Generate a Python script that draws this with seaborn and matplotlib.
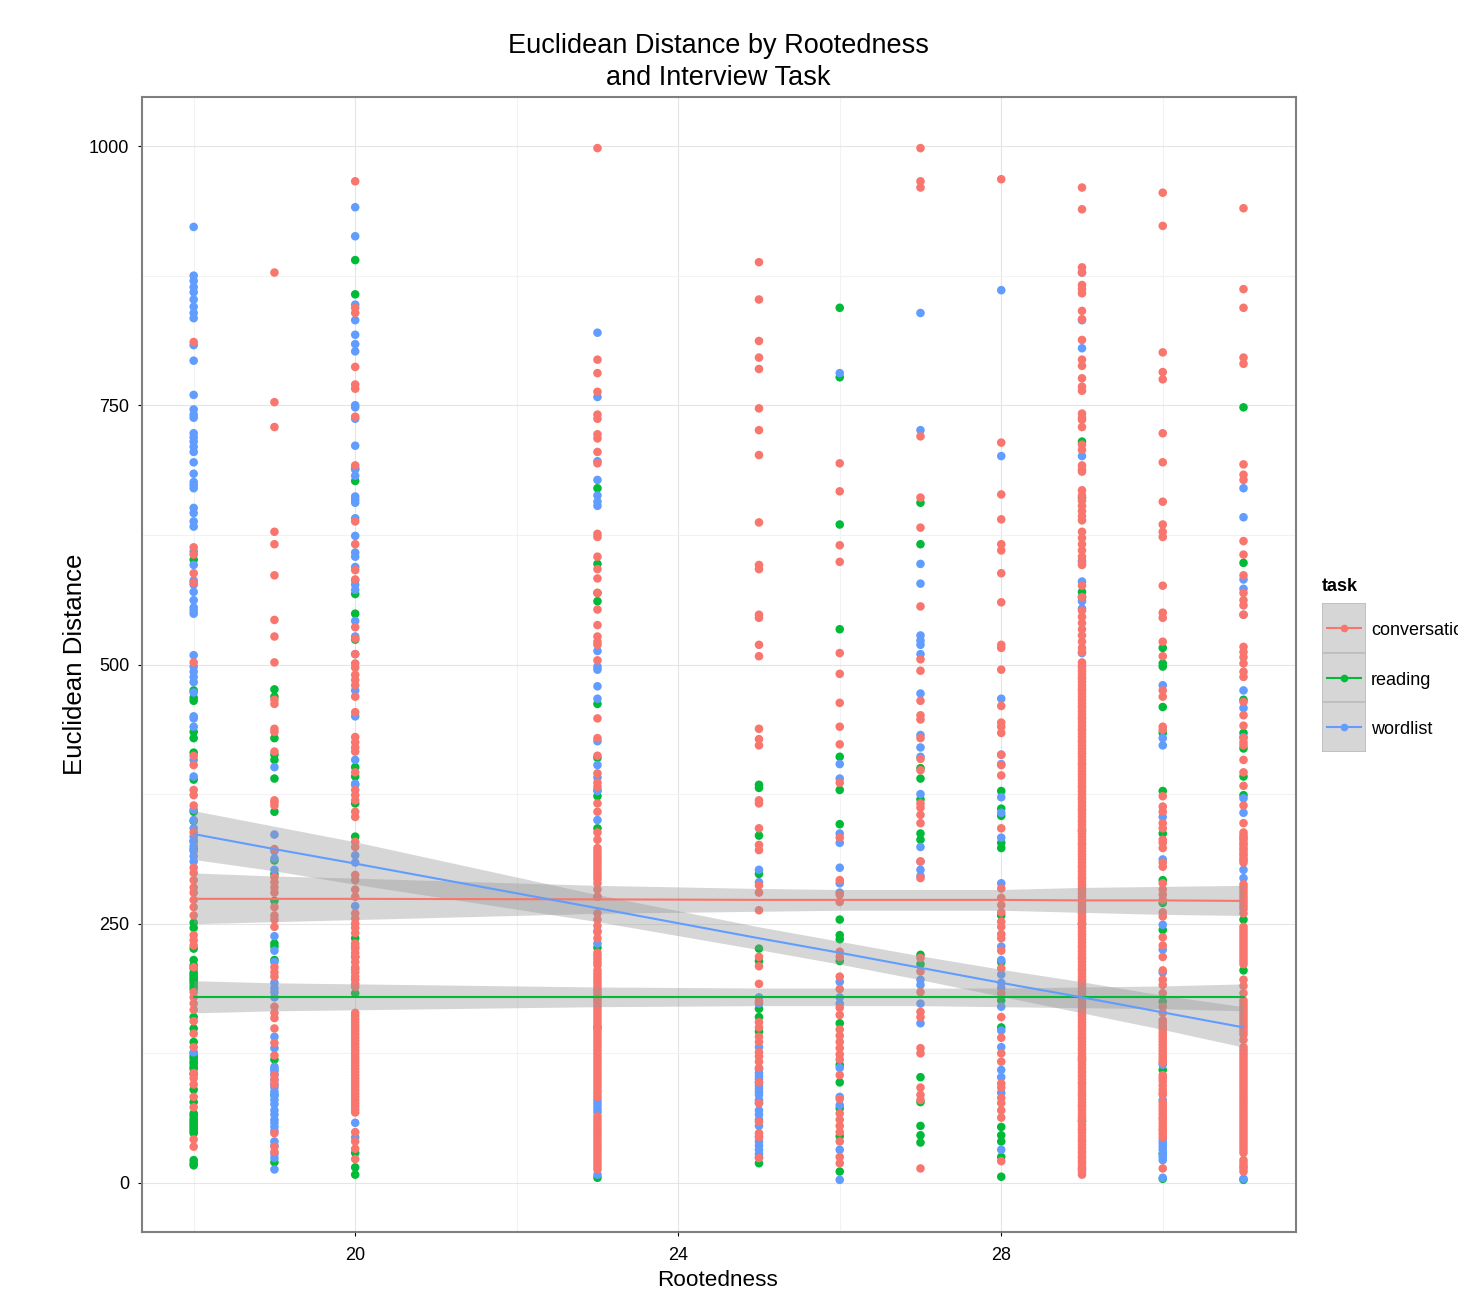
import pandas as pd
import matplotlib
matplotlib.use('Agg')
import matplotlib.pyplot as plt
import seaborn as sns

# valores, una lista por columna de rootedness y tarea
conv_18 = [811, 613, 606, 588, 579, 502, 412, 403, 379, 374, 364, 338, 304, 299, 292, 285, 280, 273, 266, 258,
           239, 234, 229, 208, 184, 179, 173, 167, 156, 144, 131, 106, 101, 95, 83, 73, 42, 35]
read_18 = [601, 475, 468, 465, 435, 429, 415, 389, 358, 349, 330, 322, 251, 246, 226, 215, 210, 207, 203, 201, 199,
           197, 195, 193, 190, 187, 160, 149, 136, 125, 122, 120, 117, 115, 112, 110, 105, 90, 78, 67, 65, 62, 60,
           58, 56, 54, 52, 50, 48, 22, 19, 17]
word_18 = [922, 875, 870, 864, 859, 852, 845, 839, 834, 808, 793, 760, 746, 741, 738, 723, 719, 715, 710, 705, 695,
           684, 676, 673, 670, 651, 646, 638, 633, 609, 596, 581, 577, 570, 562, 555, 552, 549, 509, 498, 493, 488,
           483, 473, 450, 448, 440, 408, 392, 360, 350, 342, 334, 329, 325, 320, 315, 310, 126]

conv_19 = [878, 753, 729, 628, 616, 586, 543, 527, 502, 466, 462, 438, 435, 416, 369, 367, 364, 322, 295, 290, 285,
           280, 266, 258, 254, 247, 208, 203, 199, 170, 164, 159, 149, 135, 123, 104, 99, 95, 48, 35, 30]
read_19 = [476, 469, 429, 413, 408, 390, 358, 311, 298, 272, 231, 228, 215, 119, 85, 20]
word_19 = [401, 336, 320, 313, 302, 238, 224, 213, 193, 188, 184, 179, 141, 130, 112, 110, 108, 105, 100, 95, 92,
           88, 84, 80, 76, 70, 66, 61, 58, 54, 50, 40, 36, 28, 24, 13]

conv_20 = [966, 844, 839, 787, 770, 766, 739, 692, 638, 616, 591, 582, 536, 525, 510, 501, 497, 490, 485, 480, 469,
           454, 430, 425, 420, 416, 396, 379, 374, 369, 358, 353, 329, 324, 297, 292, 283, 276, 260, 255, 250, 246,
           241, 231, 228, 226, 222, 218, 213, 208, 206, 203, 199, 196, 192, 189, 164, 161, 158, 155, 152, 149, 146,
           143, 140, 137, 134, 131, 128, 125, 122, 119, 116, 113, 110, 107, 104, 101, 98, 95, 92, 89, 86, 83, 80,
           77, 74, 71, 68, 49, 40, 33, 23]
read_20 = [890, 857, 677, 568, 549, 524, 401, 392, 366, 334, 236, 218, 183, 29, 15, 8]
word_20 = [941, 913, 847, 832, 818, 809, 802, 750, 748, 737, 711, 689, 688, 682, 662, 659, 656, 641, 624, 608, 604,
           594, 581, 577, 572, 542, 527, 510, 475, 450, 408, 384, 385, 316, 309, 267, 58, 44]

conv_23 = [998, 794, 781, 763, 741, 737, 722, 718, 705, 694, 626, 623, 604, 592, 583, 569, 553, 538, 527, 522, 519,
           504, 448, 429, 412, 395, 386, 382, 366, 358, 338, 331, 323, 320, 317, 314, 311, 308, 305, 302, 299, 296,
           293, 289, 283, 276, 260, 254, 248, 242, 236, 222, 219, 216, 213, 210, 205, 202, 199, 196, 193, 190, 187,
           184, 181, 178, 176, 173, 170, 167, 164, 161, 158, 155, 152, 149, 146, 143, 140, 137, 134, 131, 128, 125,
           122, 119, 116, 113, 110, 107, 104, 101, 98, 95, 92, 89, 86, 83, 64, 61, 58, 55, 52, 49, 46, 43, 40, 37,
           34, 31, 28, 25, 22, 19, 16, 13]
read_23 = [670, 597, 569, 561, 462, 410, 373, 342, 227, 150, 5]
word_23 = [820, 758, 696, 678, 663, 657, 653, 513, 498, 495, 479, 467, 426, 403, 391, 378, 379, 350, 276, 243, 231,
           80, 77, 74, 71, 68, 8]

conv_25 = [888, 852, 812, 796, 785, 747, 726, 702, 637, 596, 592, 548, 545, 519, 508, 438, 428, 422, 369, 366, 342,
           326, 321, 287, 280, 263, 218, 209, 192, 175, 155, 150, 141, 136, 126, 122, 117, 111, 97, 77, 59, 48, 44, 24]
read_25 = [384, 381, 335, 298, 226, 214, 168, 160, 146, 19]
word_25 = [302, 290, 179, 173, 131, 110, 106, 103, 100, 97, 94, 91, 88, 85, 80, 77, 70, 66, 61, 55, 45, 40, 36, 32,
           28, 25]

conv_26 = [694, 667, 615, 599, 511, 491, 463, 440, 423, 386, 333, 292, 278, 271, 223, 218, 199, 187, 169, 162, 148,
           142, 136, 130, 124, 119, 104, 81, 67, 61, 55, 49, 40, 25, 19]
read_26 = [844, 777, 635, 534, 411, 379, 346, 254, 239, 235, 214, 154, 114, 97, 72, 45, 11]
word_26 = [781, 404, 390, 337, 328, 304, 289, 280, 194, 179, 173, 111, 83, 75, 32, 3]

conv_27 = [998, 966, 960, 720, 661, 632, 556, 505, 494, 465, 451, 447, 429, 409, 398, 366, 362, 355, 347, 310, 294,
           217, 204, 184, 165, 160, 130, 125, 92, 85, 80, 14]
read_27 = [656, 616, 400, 390, 370, 337, 331, 220, 211, 102, 78, 55, 46, 39]
word_27 = [839, 726, 597, 578, 528, 523, 519, 510, 472, 432, 420, 411, 375, 324, 310, 302, 296, 196, 191, 173, 154]

conv_28 = [968, 714, 664, 640, 616, 610, 588, 560, 519, 516, 495, 460, 444, 440, 434, 413, 403, 393, 342, 284, 275,
           268, 261, 252, 247, 240, 236, 224, 207, 183, 160, 140, 125, 117, 96, 92, 82, 77, 70, 63, 21]
read_28 = [378, 361, 354, 328, 323, 258, 213, 176, 150, 54, 46, 40, 25, 6]
word_28 = [861, 701, 467, 413, 404, 372, 357, 333, 289, 228, 215, 201, 193, 188, 170, 147, 131, 109, 102, 87, 32]

conv_29 = [960, 939, 883, 878, 866, 862, 858, 841, 833, 813, 794, 788, 776, 768, 764, 742, 738, 736, 729, 712, 707,
           692, 688, 686, 668, 663, 658, 653, 648, 643, 639, 628, 622, 616, 610, 604, 598, 596, 576, 565, 552, 546,
           540, 534, 528, 522, 516, 512, 502, 499, 497, 494, 491, 488, 486, 483, 480, 477, 475, 472, 469, 466, 463,
           460, 458, 455, 452, 449, 447, 444, 441, 438, 436, 433, 430, 427, 425, 422, 419, 416, 414, 411, 408, 405,
           403, 400, 397, 394, 392, 389, 386, 383, 381, 378, 375, 372, 370, 367, 364, 361, 359, 356, 353, 350, 348,
           345, 342, 339, 337, 334, 331, 328, 326, 323, 320, 317, 315, 312, 309, 306, 304, 301, 298, 295, 293, 290,
           287, 284, 282, 279, 276, 273, 271, 268, 265, 262, 260, 257, 254, 251, 249, 246, 243, 240, 238, 235, 232,
           229, 227, 224, 221, 218, 216, 213, 210, 207, 205, 202, 199, 196, 194, 191, 188, 185, 183, 180, 177, 174,
           172, 169, 166, 163, 161, 158, 155, 152, 150, 147, 144, 141, 139, 136, 133, 130, 128, 125, 122, 119, 117,
           114, 111, 108, 106, 103, 100, 97, 95, 92, 89, 86, 84, 81, 78, 75, 73, 70, 67, 64, 62, 59, 56, 53, 51, 48,
           45, 42, 40, 37, 34, 31, 29, 26, 24, 21, 19, 16, 13, 11, 8]
read_29 = [715, 661, 570, 565, 340, 250, 180, 120, 60]
word_29 = [878, 832, 805, 701, 600, 580, 561, 554, 511, 14]

conv_30 = [955, 923, 801, 782, 775, 723, 695, 657, 635, 628, 623, 576, 550, 545, 522, 508, 475, 469, 440, 437, 373,
           363, 358, 347, 342, 331, 328, 323, 309, 305, 289, 283, 278, 273, 261, 257, 237, 229, 218, 205, 196, 191,
           183, 170, 164, 157, 154, 151, 148, 145, 142, 139, 136, 133, 130, 127, 124, 121, 118, 116, 104, 101, 98,
           94, 90, 87, 85, 78, 75, 72, 69, 66, 63, 61, 58, 55, 52, 50, 47, 44, 14]
read_30 = [516, 501, 498, 459, 434, 378, 337, 292, 270, 244, 175, 109, 28, 4]
word_30 = [480, 429, 422, 353, 312, 249, 225, 203, 114, 80, 41, 38, 35, 32, 28, 25, 22, 5]

conv_31 = [940, 862, 844, 796, 790, 693, 683, 678, 619, 606, 586, 569, 562, 557, 548, 517, 512, 507, 501, 493, 488,
           464, 451, 441, 429, 425, 422, 408, 396, 383, 364, 347, 338, 335, 333, 331, 328, 326, 323, 321, 318, 316,
           313, 311, 309, 288, 285, 282, 279, 276, 273, 270, 267, 264, 260, 247, 244, 241, 238, 235, 232, 229, 226,
           223, 220, 217, 214, 211, 196, 190, 183, 176, 173, 170, 167, 164, 161, 158, 155, 152, 149, 146, 143, 138,
           131, 125, 122, 119, 116, 113, 110, 107, 104, 101, 98, 95, 92, 89, 86, 83, 80, 77, 74, 71, 68, 65, 62, 59,
           56, 53, 50, 47, 44, 41, 38, 35, 32, 29, 22, 19, 16, 14, 11]
read_31 = [748, 598, 466, 434, 419, 392, 374, 254, 205, 3]
word_31 = [670, 642, 582, 573, 548, 475, 458, 430, 371, 357, 302, 294, 128, 4]

rootedness = [18, 19, 20, 23, 25, 26, 27, 28, 29, 30, 31]

# ajustes lineales y bandas de confianza
conv_fit = [274, 274, 274, 273.5, 273, 273, 273, 273, 272.5, 272.5, 272]
conv_hi = [299, 296, 294, 287, 284, 283, 283, 283, 285, 286, 287]
conv_lo = [250, 252, 254, 260, 262, 263, 263, 263, 261, 259, 258]
read_fit = [179, 179, 179, 179, 179, 179, 179, 179, 179, 179, 179]
read_hi = [195, 193, 192, 189, 188, 188, 188, 188, 189, 190, 192]
read_lo = [164, 166, 167, 170, 171, 171, 171, 170, 169, 168, 166]
word_fit = [336.5, 322, 308, 265, 236, 222, 207.5, 193, 179, 164.5, 150]
word_hi = [359, 344, 329, 278, 247, 233, 219, 206, 194, 181, 170]
word_lo = [312, 301, 288, 252, 225, 211, 196, 180, 164, 148, 131]

colores = {'conversation': '#F8766D', 'reading': '#00BA38', 'wordlist': '#619CFF'}

por_tarea = {
    'reading': [read_18, read_19, read_20, read_23, read_25, read_26, read_27, read_28, read_29, read_30, read_31],
    'wordlist': [word_18, word_19, word_20, word_23, word_25, word_26, word_27, word_28, word_29, word_30, word_31],
    'conversation': [conv_18, conv_19, conv_20, conv_23, conv_25, conv_26, conv_27, conv_28, conv_29, conv_30, conv_31],
}

# tabla larga, el orden de las filas decide que punto queda encima
filas = []
for tarea, columnas in por_tarea.items():
    for x, valores in zip(rootedness, columnas):
        for v in valores:
            filas.append({'Rootedness': x, 'Euclidean Distance': v, 'task': tarea})
df = pd.DataFrame(filas)

ajustes = pd.concat([
    pd.DataFrame({'Rootedness': rootedness, 'fit': conv_fit, 'task': 'conversation'}),
    pd.DataFrame({'Rootedness': rootedness, 'fit': read_fit, 'task': 'reading'}),
    pd.DataFrame({'Rootedness': rootedness, 'fit': word_fit, 'task': 'wordlist'}),
])

sns.set_theme(style='white')
plt.rcParams['font.family'] = ['Liberation Sans']

W, H = 1458, 1303
fig = plt.figure(figsize=(W / 100, H / 100), dpi=100)
ax = fig.add_axes([142 / W, 1 - 1232 / H, (1296 - 142) / W, (1232 - 97) / H])

sns.scatterplot(data=df, x='Rootedness', y='Euclidean Distance', hue='task', palette=colores,
                s=38, linewidth=0, legend=False, ax=ax, zorder=3)

for lo, hi in [(conv_lo, conv_hi), (read_lo, read_hi), (word_lo, word_hi)]:
    ax.fill_between(rootedness, lo, hi, color='#999999', alpha=0.4, linewidth=0, zorder=4)

sns.lineplot(data=ajustes, x='Rootedness', y='fit', hue='task', palette=colores, linewidth=1.5,
             estimator=None, legend=False, ax=ax, zorder=5)

ax.set_xlim(17.36, 31.65)
ax.set_ylim(-47.3, 1047.3)
ax.set_xticks([20, 24, 28])
ax.set_xticks([18, 22, 26, 30], minor=True)
ax.set_yticks([0, 250, 500, 750, 1000])
ax.set_yticks([125, 375, 625, 875], minor=True)
ax.grid(which='major', color='#E5E5E5', linewidth=0.8, zorder=0)
ax.grid(which='minor', color='#F2F2F2', linewidth=0.8, zorder=0)
ax.set_axisbelow(True)
ax.tick_params(which='major', length=3, width=0.8, color='black', labelsize=13, labelcolor='black', bottom=True, left=True)
ax.tick_params(axis='y', pad=6)
ax.tick_params(axis='x', pad=8)
ax.tick_params(which='minor', length=0)
for s in ax.spines.values():
    s.set_color('#7F7F7F')
    s.set_linewidth(1.5)

ax.set_xlabel('')
ax.set_ylabel('')
fig.text(718 / W, 1 - 1281 / H, 'Rootedness', ha='center', va='center', fontsize=16.2, color='black')
fig.text(75 / W, 1 - 664 / H, 'Euclidean Distance', ha='center', va='center', rotation=90, fontsize=18.6, color='black')
fig.text(718 / W, 1 - 62 / H, 'Euclidean Distance by Rootedness\nand Interview Task', ha='center', va='center',
         fontsize=19.5, color='black', linespacing=1.32)

# leyenda a mano, el texto se corta en el borde igual que en el original
lax = fig.add_axes([1322 / W, 1 - 752 / H, 44 / W, 149 / H])
lax.set_xlim(0, 1)
lax.set_ylim(3, 0)
lax.axis('off')
for i, tarea in enumerate(colores):
    lax.axhspan(i, i + 1, facecolor='#D6D6D6', edgecolor='#BDBDBD', linewidth=1.2)
    lax.plot([0.1, 0.9], [i + 0.5, i + 0.5], color=colores[tarea], linewidth=1.5, solid_capstyle='butt')
    lax.plot([0.5], [i + 0.5], color=colores[tarea], marker='o', markersize=5.5, markeredgewidth=0)
    fig.text(1371 / W, 1 - (605.5 + 49.7 * (i + 0.5)) / H, tarea, ha='left', va='center', fontsize=13, color='black')
fig.text(1322 / W, 1 - 586 / H, 'task', ha='left', va='center', fontsize=13, fontweight='bold', color='black')

fig.savefig('out.png', dpi=100, facecolor='white')
